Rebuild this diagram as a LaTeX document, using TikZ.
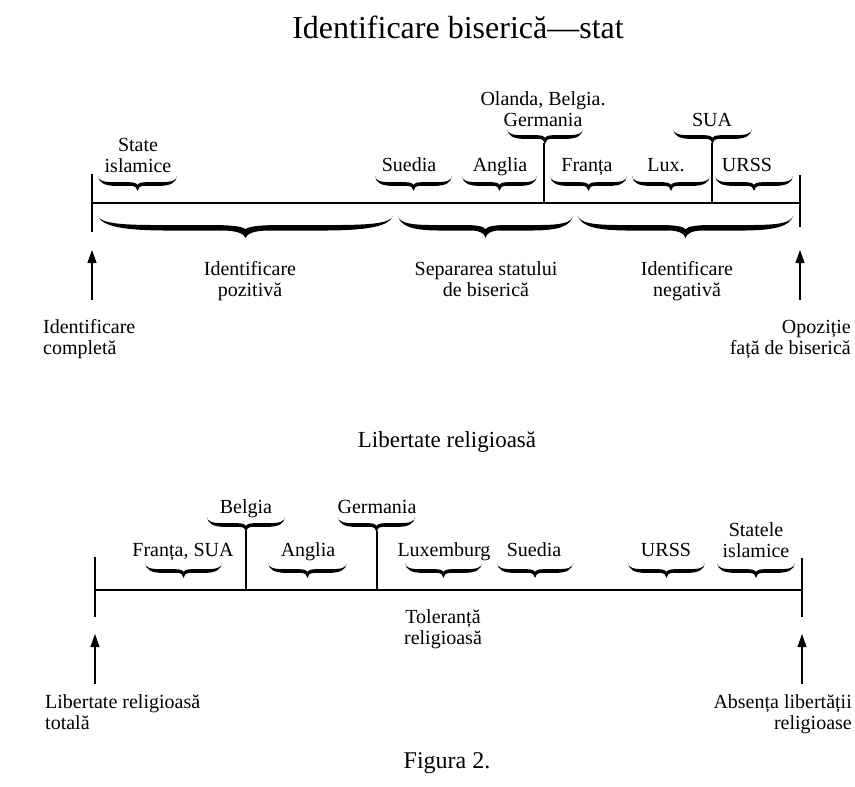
\documentclass[tikz,border=0pt]{standalone}
\usepackage{fontspec}
\setmainfont{Liberation Serif}
\usetikzlibrary{arrows.meta}
% typographic brace, tip down: x-left, y-top, width, height
\newcommand\cbrace[4]{%
  \fill[shift={(#1,#2)},xscale=#3,yscale=#4]
    (0,0) .. controls (0.01,0.3) and (0.06,0.41) .. (0.2,0.41)
    -- (0.38,0.41) .. controls (0.45,0.41) and (0.49,0.47) .. (0.5,0.6)
    .. controls (0.51,0.47) and (0.55,0.41) .. (0.62,0.41)
    -- (0.8,0.41) .. controls (0.94,0.41) and (0.99,0.3) .. (1,0)
    .. controls (0.985,0.46) and (0.92,0.66) .. (0.76,0.66)
    -- (0.58,0.66) .. controls (0.53,0.66) and (0.505,0.8) .. (0.5,1)
    .. controls (0.495,0.8) and (0.47,0.66) .. (0.42,0.66)
    -- (0.24,0.66) .. controls (0.08,0.66) and (0.015,0.46) .. (0,0) -- cycle;}
\begin{document}
\begin{tikzpicture}[x=1pt,y=-1pt,
  lab/.style={inner sep=0pt, font=\fontsize{20}{21}\selectfont, align=center,
    execute at begin node=\strut, execute at end node=\strut},
  axisline/.style={line width=1.8pt},
  tickline/.style={line width=1.1pt},
  uparrow/.style={line width=1.1pt, -{Triangle[length=13pt,width=9pt]}}]
\useasboundingbox (0,0) rectangle (855,787);

% ---------------- top diagram ----------------
\node[inner sep=0pt, font=\fontsize{32}{36}\selectfont] (title1) at (458,27) {Identificare biserică—stat};

\coordinate (a0) at (92,203);  \coordinate (a1) at (800,203);
\draw[axisline] (a0) -- (a1);
\coordinate (a0t) at (92,174); \coordinate (a0b) at (92,232);
\coordinate (a1t) at (800,175); \coordinate (a1b) at (800,227);
\draw[tickline] (a0t) -- (a0b);
\draw[tickline] (a1t) -- (a1b);
\coordinate (d1t) at (544,143); \coordinate (d1b) at (544,203);
\coordinate (d2t) at (712,143); \coordinate (d2b) at (712,203);
\draw[tickline] (d1t) -- (d1b);
\draw[tickline] (d2t) -- (d2b);

% small braces above the line
\cbrace{98}{176}{79}{15}
\cbrace{375}{176}{77}{15}
\cbrace{462}{176}{75}{15}
\cbrace{550}{176}{77}{15}
\cbrace{632}{176}{78}{15}
\cbrace{715}{176}{78}{15}
\cbrace{507}{129}{76}{15}
\cbrace{673}{129}{79}{15}
% big braces below the line
\cbrace{98}{216}{295}{22}
\cbrace{398}{216}{175}{22}
\cbrace{578}{216}{215}{22}

\node[lab] (stisl) at (138,159) {State\\islamice};
\node[lab] (sued1) at (409,167.5) {Suedia};
\node[lab] (angl1) at (500,167.5) {Anglia};
\node[lab] (fran1) at (587,167.5) {Franța};
\node[lab] (lux1)  at (666,167.5) {Lux.};
\node[lab] (urss1) at (747,167.5) {URSS};
\node[lab] (olbg)  at (543,112.5) {Olanda, Belgia.\\Germania};
\node[lab] (sua1)  at (712,122.5) {SUA};

\node[lab] (idpoz) at (250,282.5) {Identificare\\pozitivă};
\node[lab] (separ) at (486,282.5) {Separarea statului\\de biserică};
\node[lab] (idneg) at (687,282.5) {Identificare\\negativă};

\coordinate (ar1s) at (92,300);  \coordinate (ar1e) at (92,250);
\coordinate (ar2s) at (800,300); \coordinate (ar2e) at (800,250);
\draw[uparrow] (ar1s) -- (ar1e);
\draw[uparrow] (ar2s) -- (ar2e);

\node[lab, align=left, anchor=west] (idcomp) at (43,340) {Identificare\\completă};
\node[lab, align=right, anchor=east] (opoz) at (851,341) {Opoziție\\față de biserică};

% ---------------- bottom diagram ----------------
\node[inner sep=0pt, font=\fontsize{23}{26}\selectfont] (title2) at (447,442) {Libertate religioasă};

\coordinate (b0) at (95,590);  \coordinate (b1) at (802,590);
\draw[axisline] (b0) -- (b1);
\coordinate (b0t) at (95,557); \coordinate (b0b) at (95,617);
\coordinate (b1t) at (802,558); \coordinate (b1b) at (802,617);
\draw[tickline] (b0t) -- (b0b);
\draw[tickline] (b1t) -- (b1b);
\coordinate (e1t) at (246,531); \coordinate (e1b) at (246,590);
\coordinate (e2t) at (377,531); \coordinate (e2b) at (377,590);
\draw[tickline] (e1t) -- (e1b);
\draw[tickline] (e2t) -- (e2b);

\cbrace{207}{517}{78}{15}
\cbrace{338}{517}{77}{15}
\cbrace{145}{563}{77}{15}
\cbrace{268}{563}{79}{15}
\cbrace{405}{563}{77}{15}
\cbrace{497}{563}{76}{15}
\cbrace{628}{563}{77}{15}
\cbrace{717}{563}{78}{15}

\node[lab] (belg2) at (246,509.5) {Belgia};
\node[lab] (germ2) at (377,509.5) {Germania};
\node[lab] (frsua) at (183,552.5) {Franța, SUA};
\node[lab] (angl2) at (308,552.5) {Anglia};
\node[lab] (luxb2) at (444,552.5) {Luxemburg};
\node[lab] (sued2) at (534,552.5) {Suedia};
\node[lab] (urss2) at (666,552.5) {URSS};
\node[lab] (stisl2) at (756,543.5) {Statele\\islamice};

\node[lab] (toler) at (443,630) {Toleranță\\religioasă};

\coordinate (br1s) at (95,684);  \coordinate (br1e) at (95,634);
\coordinate (br2s) at (802,684); \coordinate (br2e) at (802,634);
\draw[uparrow] (br1s) -- (br1e);
\draw[uparrow] (br2s) -- (br2e);

\node[lab, align=left, anchor=west] (libtot) at (45,715) {Libertate religioasă\\totală};
\node[lab, align=right, anchor=east] (absl) at (852,715) {Absența libertății\\religioase};

\node[inner sep=0pt, font=\fontsize{24}{28}\selectfont] (fig) at (447,763) {Figura 2.};
\end{tikzpicture}
\end{document}
